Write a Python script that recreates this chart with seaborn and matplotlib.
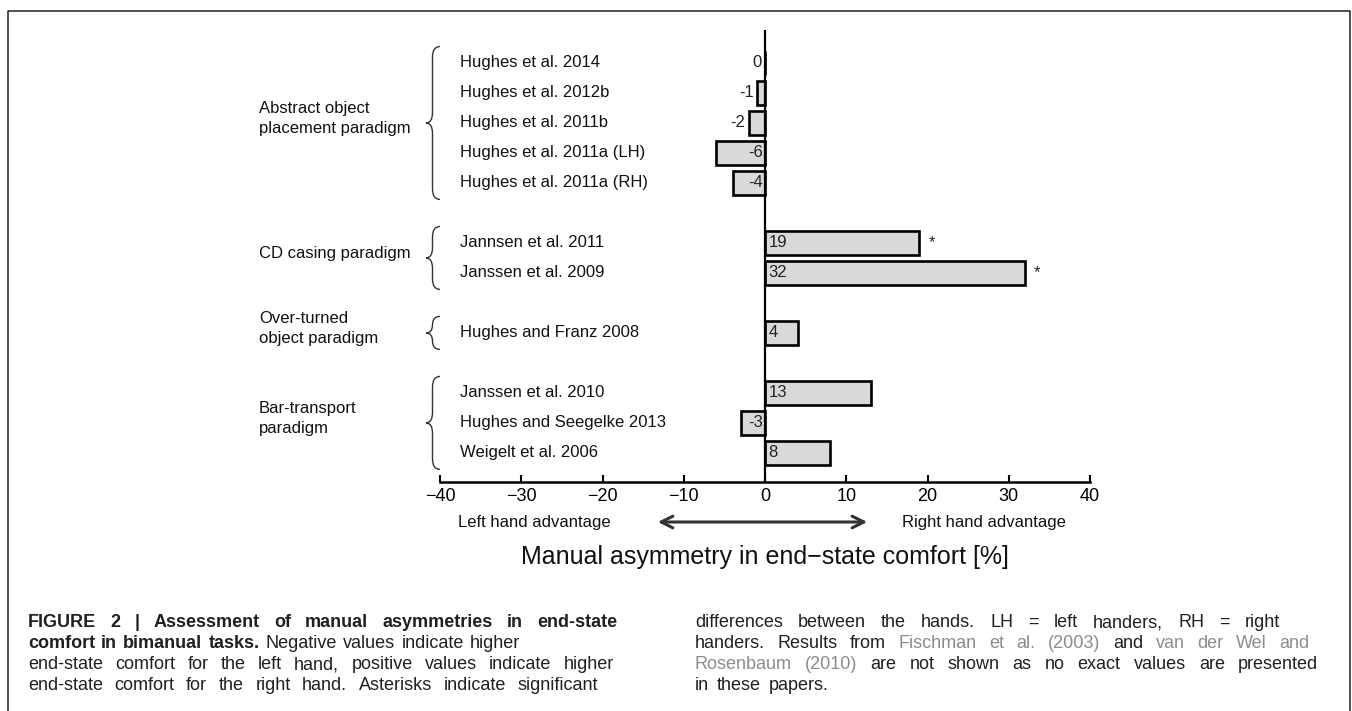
import numpy as np
import pandas as pd
import matplotlib
matplotlib.use('Agg')
import matplotlib.pyplot as plt
import seaborn as sns
from matplotlib.path import Path
from matplotlib.patches import PathPatch
from matplotlib.transforms import blended_transform_factory

# values
studies = ['Hughes et al. 2014', 'Hughes et al. 2012b', 'Hughes et al. 2011b',
           'Hughes et al. 2011a (LH)', 'Hughes et al. 2011a (RH)',
           'Jannsen et al. 2011', 'Janssen et al. 2009',
           'Hughes and Franz 2008',
           'Janssen et al. 2010', 'Hughes and Seegelke 2013', 'Weigelt et al. 2006']
asymmetry = [0, -1, -2, -6, -4, 19, 32, 4, 13, -3, 8]
significant = [False, False, False, False, False, True, True, False, False, False, False]
paradigms = ['Abstract object\nplacement paradigm', 'CD casing paradigm',
             'Over-turned\nobject paradigm', 'Bar-transport\nparadigm']
paradigm_size = [5, 2, 1, 3]
xticks = [-40, -30, -20, -10, 0, 10, 20, 30, 40]

# one blank row between paradigms
slots = []
group_rows = []
pos = 0
for n in paradigm_size:
    group_rows.append((pos, pos + n - 1))
    slots += list(range(pos, pos + n))
    pos += n + 1

df = pd.DataFrame({'study': studies, 'asymmetry': asymmetry, 'slot': slots})

sns.set_theme(style='white')
plt.rcParams['font.family'] = ['Liberation Sans', 'DejaVu Sans']

W, H = 1352, 711
fig = plt.figure(figsize=(W / 100, H / 100), dpi=100)

# pixel overlay for frame, braces and caption
over = fig.add_axes([0, 0, 1, 1])
over.set_xlim(0, W)
over.set_ylim(H, 0)
over.axis('off')

ax = fig.add_axes([440 / W, (H - 482) / H, 650 / W, 452 / H])
ax.set_facecolor('none')
sns.barplot(data=df, x='asymmetry', y='slot', orient='h', native_scale=True,
            color='#d9d9d9', saturation=1, edgecolor='black', linewidth=1.9,
            width=0.8, errorbar=None, ax=ax)
ax.set_xlim(-40, 40)
ax.set_ylim(13.97, -1.1)
ax.axvline(0, color='black', lw=1.6, zorder=5)
ax.set_xticks(xticks)
ax.set_yticks([])
ax.set_xlabel('')
ax.set_ylabel('')
for s in ['top', 'left', 'right']:
    ax.spines[s].set_visible(False)
ax.spines['bottom'].set_color('black')
ax.spines['bottom'].set_linewidth(1.8)
ax.tick_params(axis='x', direction='in', length=5, width=1.5, color='black',
               labelsize=13, labelcolor='black', pad=4.5, bottom=True)

for v, y, sig in zip(asymmetry, slots, significant):
    if v > 0:
        ax.text(0.45, y, str(v), ha='left', va='center', fontsize=12, color='#222222')
    elif v > -3:
        # bar too short for its label: put it beside the bar end
        ax.text(v - 0.4, y, str(v), ha='right', va='center', fontsize=12, color='#222222')
    else:
        ax.text(-0.2, y, str(v), ha='right', va='center', fontsize=12, color='#222222')
    if sig:
        ax.text(v + 1.5, y, '*', ha='center', va='center', fontsize=12, color='#222222')

trans = blended_transform_factory(over.transData, ax.transData)
for name, y in zip(studies, slots):
    ax.text(460, y, name, transform=trans, ha='left', va='center', fontsize=12,
            color='#111111', clip_on=False)


def brace(y0, y1, x_tip=426, x_spine=432.5, x_hook=440):
    top, bot = y0 - 0.55, y1 + 0.55
    mid = (top + bot) / 2
    r = min(0.35, (bot - top) / 4)
    verts = [(x_hook, top), (x_spine, top), (x_spine, top + r),
             (x_spine, mid - r), (x_spine, mid), (x_tip, mid),
             (x_spine, mid), (x_spine, mid + r),
             (x_spine, bot - r), (x_spine, bot), (x_hook, bot)]
    codes = [Path.MOVETO, Path.CURVE3, Path.CURVE3,
             Path.LINETO, Path.CURVE3, Path.CURVE3,
             Path.CURVE3, Path.CURVE3,
             Path.LINETO, Path.CURVE3, Path.CURVE3]
    over.add_patch(PathPatch(Path(verts, codes), transform=trans, fill=False,
                             edgecolor='#333333', lw=1.0, clip_on=False))
    return mid


for label, (r0, r1) in zip(paradigms, group_rows):
    mid = brace(r0, r1)
    over.text(259, mid - 0.15, label, transform=trans, ha='left', va='center',
              fontsize=12, color='#111111', linespacing=1.4)

# axis annotation
over.annotate('', xy=(655, 522), xytext=(870, 522),
              arrowprops=dict(arrowstyle='<->,head_length=0.7,head_width=0.35',
                              color='#333333', lw=2.2))
over.text(534, 522, 'Left hand advantage', ha='center', va='center', fontsize=12, color='#111111')
over.text(984, 522, 'Right hand advantage', ha='center', va='center', fontsize=12, color='#111111')
over.text(765, 557, 'Manual asymmetry in end\u2212state comfort [%]', ha='center', va='center',
          fontsize=18, color='#111111')

# frame (open at the bottom)
over.plot([8, 8, 1350, 1350], [H + 5, 11, 11, H + 5], color='#231f20', lw=1.1, clip_on=False)

# caption, justified word by word
caption_left = [
    [('FIGURE 2 | Assessment of manual asymmetries in end-state', 'b')],
    [('comfort in bimanual tasks.', 'b'), ('Negative values indicate higher', 'n')],
    [('end-state comfort for the left hand, positive values indicate higher', 'n')],
    [('end-state comfort for the right hand. Asterisks indicate significant', 'n')],
]
left_ends = [617, 520, 614, 598]
caption_right = [
    [('differences between the hands. LH = left handers, RH = right', 'n')],
    [('handers. Results from', 'n'), ('Fischman et al. (2003)', 'g'), ('and', 'n'),
     ('van der Wel and', 'g')],
    [('Rosenbaum (2010)', 'g'), ('are not shown as no exact values are presented', 'n')],
    [('in these papers.', 'n')],
]
right_ends = [1280, 1309, 1318, None]
line_y = [622, 643, 664, 685]

styles = {'b': ('bold', '#231f20'), 'n': ('normal', '#231f20'), 'g': ('normal', '#8c8c8c')}
renderer = fig.canvas.get_renderer()


def caption_line(segments, x0, x1, y):
    texts = []
    for seg, st in segments:
        wt, col = styles[st]
        for w in seg.split(' '):
            texts.append(over.text(x0, y + 5, w, fontsize=13, fontweight=wt, color=col,
                                   ha='left', va='baseline'))
    widths = [t.get_window_extent(renderer).width for t in texts]
    gap = 8 if x1 is None else (x1 - x0 - sum(widths)) / (len(texts) - 1)
    x = x0
    for t, w in zip(texts, widths):
        t.set_x(x)
        x += w + gap


for segs, x1, y in zip(caption_left, left_ends, line_y):
    caption_line(segs, 28, x1, y)
for segs, x1, y in zip(caption_right, right_ends, line_y):
    caption_line(segs, 695, x1, y)

fig.savefig('out.png', dpi=100)
